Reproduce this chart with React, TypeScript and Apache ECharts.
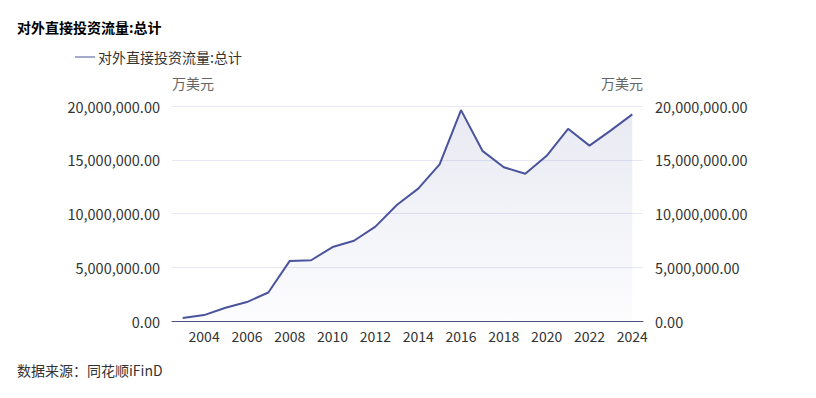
import React, { useEffect, useRef } from "react";
import * as echarts from "echarts";

const years = ["2003","2004","2005","2006","2007","2008","2009","2010","2011","2012","2013","2014","2015","2016","2017","2018","2019","2020","2021","2022","2023","2024"];
const flows = [285465, 549799, 1226117, 1763397, 2650609, 5590717, 5652899, 6881131, 7465404, 8780353, 10784371, 12311986, 14566715, 19614943, 15828830, 14303731, 13690756, 15371026, 17881932, 16312000, 17729000, 19222000];
const seriesName = "对外直接投资流量:总计";
const unit = "万美元";
const titleText = "对外直接投资流量:总计";
const sourceText = "数据来源：同花顺iFinD";

const FONT = "'Noto Sans CJK SC', 'Noto Sans', sans-serif";

const fmt = (v: number) =>
  v.toLocaleString("en-US", { minimumFractionDigits: 2, maximumFractionDigits: 2 });

export default function App() {
  const ref = useRef<HTMLDivElement>(null);
  useEffect(() => {
    if (!ref.current) return;
    const chart = echarts.init(ref.current, undefined, { renderer: "svg" });
    const yCommon = {
      type: "value" as const,
      min: 0,
      max: 20000000,
      interval: 5000000,
      nameLocation: "end" as const,
      nameGap: 16,
      nameTextStyle: { color: "#666", fontSize: 14, fontFamily: FONT },
      axisLine: { show: false },
      axisTick: { show: false },
      axisLabel: { color: "#333", fontSize: 14.5, fontFamily: FONT, formatter: (v: number) => fmt(v), margin: 12 },
    };
    chart.setOption({
      animation: false,
      textStyle: { fontFamily: FONT },
      title: {
        text: titleText,
        left: 12,
        top: 15,
        textStyle: { fontSize: 14, fontWeight: "bold", color: "#000", fontFamily: FONT },
      },
      legend: {
        left: 70,
        top: 45,
        itemWidth: 20,
        itemHeight: 10,
        itemGap: 10,
        icon: "path://M0,5L20,5L20,6L0,6Z",
        textStyle: { fontSize: 14, color: "#333", fontFamily: FONT, padding: [0, 0, 0, -2] },
        data: [seriesName],
      },
      graphic: [
        {
          type: "text",
          left: 17,
          top: 363,
          style: { text: sourceText, fontSize: 14, fill: "#333", fontFamily: FONT },
        },
      ],
      grid: { left: 172, right: 173, top: 106, bottom: 77 },
      xAxis: {
        type: "category",
        data: years,
        boundaryGap: true,
        axisLine: { show: true, lineStyle: { color: "#4a5080", width: 1 } },
        axisTick: { show: false },
        axisLabel: {
          color: "#333",
          fontSize: 14,
          fontFamily: FONT,
          margin: 8,
          interval: (i: number) => i % 2 === 1,
        },
        splitLine: { show: false },
      },
      yAxis: [
        {
          ...yCommon,
          name: unit,
          nameTextStyle: { ...yCommon.nameTextStyle, align: "left" },
          position: "left",
          splitLine: { show: true, lineStyle: { color: "#e6e8f5", width: 1 } },
        },
        {
          ...yCommon,
          name: unit,
          nameTextStyle: { ...yCommon.nameTextStyle, align: "right" },
          position: "right",
          splitLine: { show: false },
        },
      ],
      series: [
        {
          name: seriesName,
          type: "line",
          data: flows,
          yAxisIndex: 0,
          symbol: "none",
          lineStyle: { color: "#4a549c", width: 2 },
          itemStyle: { color: "#4a549c" },
          areaStyle: {
            color: new echarts.graphic.LinearGradient(0, 0, 0, 1, [
              { offset: 0, color: "rgba(74,84,156,0.18)" },
              { offset: 1, color: "rgba(74,84,156,0.02)" },
            ]),
            origin: "start",
          },
        },
      ],
    });
    return () => chart.dispose();
  }, []);
  return (
    <div
      ref={ref}
      style={{ position: "fixed", left: 0, top: 0, width: 816, height: 398, background: "#fff" }}
    />
  );
}
